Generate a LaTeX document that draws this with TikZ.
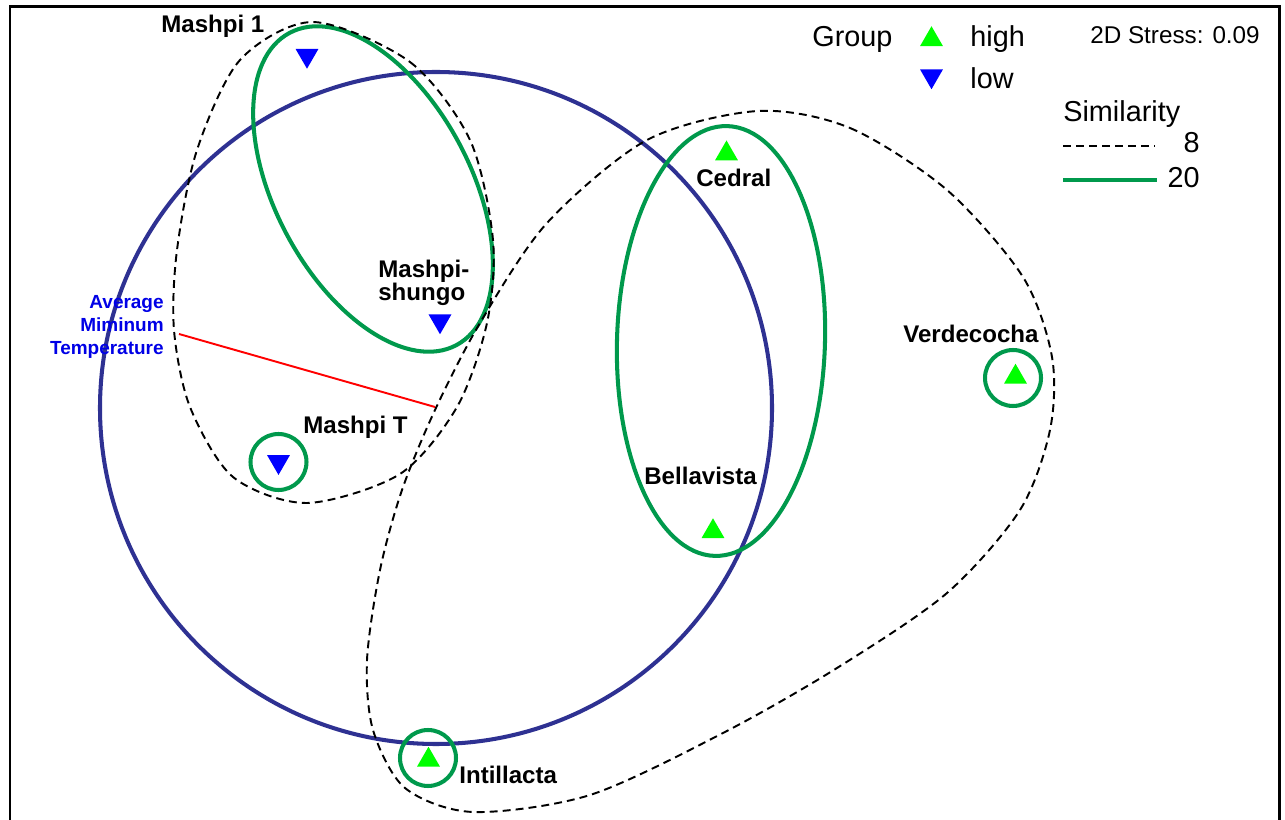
\documentclass[tikz,border=0pt]{standalone}
\usepackage{fontspec}
\setmainfont{Liberation Sans}
\usetikzlibrary{shapes.geometric}
\definecolor{tempblue}{RGB}{46,49,146}
\definecolor{grpgreen}{RGB}{0,153,76}
\definecolor{hicol}{RGB}{0,255,0}
\definecolor{locol}{RGB}{0,0,255}
\definecolor{avgblue}{RGB}{0,0,230}
\tikzset{
  hi/.style={regular polygon, regular polygon sides=3, fill=hicol, inner sep=0pt, minimum size=0.53cm},
  lo/.style={hi, fill=locol, regular polygon rotate=180},
  ring/.style={circle, draw=grpgreen, line width=2.3pt, inner sep=0pt, minimum size=1.12cm},
  site/.style={font=\fontsize{13.7}{16}\selectfont\bfseries, inner sep=0pt, anchor=base west},
  leg/.style={font=\fontsize{16.4}{19}\selectfont, inner sep=0pt, anchor=base west},
  simline/.style={dash pattern=on 4.5pt off 2.9pt, line width=1.1pt},
  grpline/.style={draw=grpgreen, line width=2.3pt},
}

\begin{document}
\begin{tikzpicture}[x=0.02cm, y=-0.02cm]
      \useasboundingbox (0,0) rectangle (1285,820);
      \draw[line width=1.7pt] (10,820) -- (10,7) -- (1279,7) -- (1279,820);
      % temperature bubble
      \draw[tempblue, line width=2.3pt] (436,408) circle [radius=336];
      % similarity 20
      \draw[grpline, rotate around={-61.85:(373,189)}] (373,189) ellipse [x radius=177, y radius=97.5];
      \draw[grpline, rotate around={-1.7:(721,341)}] (721,341) ellipse [x radius=104, y radius=215];
      % similarity 8
      \draw[simline] plot[smooth cycle] coordinates {(313,22) (410,62) (470,140) (493,240)
        (487,323) (457,407) (400,474) (307,503) (233,477) (190,407) (174,330) (177,250)
        (197,150) (240,60)};
      \draw[simline] plot[smooth cycle] coordinates {(758,111) (850,128) (947,190) (1023,277)
        (1052,357) (1050,430) (1020,510) (947,593) (837,668) (723,733) (590,795) (473,812)
        (405,788) (373,730) (367,660) (380,570) (402,490) (435,410) (480,323) (547,223)
        (647,140)};
      % vector
      \coordinate (vecA) at (179,334);
      \coordinate (vecB) at (435,407);
      \draw[red, line width=1.1pt] (vecA) -- (vecB);
      \node[font=\fontsize{10.8}{13.1}\selectfont\bfseries, text=avgblue, align=right, inner sep=0pt,
        anchor=north east] (avgtemp) at (164,295) {Average\\Miminum\\Temperature};
      % sites
      \node[ring] (mTring) at (278.5,462) {};
      \node[ring] (verring) at (1013,378) {};
      \node[ring] (intring) at (428,758) {};
      \node[lo] (m1) at (307,55.5) {};
      \node[lo] (msh) at (440,321) {};
      \node[lo] (mT) at (278.5,461.7) {};
      \node[hi] (ced) at (726.5,153.7) {};
      \node[hi] (bel) at (713,531.5) {};
      \node[hi] (ver) at (1015.5,377) {};
      \node[hi] (int) at (428.5,760) {};
      \node[site] (m1lab) at (161,33) {Mashpi 1};
      \node[site, font=\fontsize{13.7}{12.8}\selectfont\bfseries, align=left,
        anchor=north west] (mshlab) at (378,260) {Mashpi-\\shungo};
      \node[site] (mTlab) at (303,434) {Mashpi T};
      \node[site] (cedlab) at (696,187) {Cedral};
      \node[site] (bellab) at (644,485) {Bellavista};
      \node[site] (verlab) at (903,343) {Verdecocha};
      \node[site] (intlab) at (459,783) {Intillacta};
      % legend
      \node[leg] (grp) at (812,46.5) {Group};
      \node[hi] (leghi) at (931.5,39.5) {};
      \node[leg] (hilab) at (970,46.5) {high};
      \node[lo] (leglo) at (931.5,76) {};
      \node[leg] (lolab) at (970,88.3) {low};
      \node[font=\fontsize{13.8}{16}\selectfont, inner sep=0pt, anchor=base west] (stress) at (1090,43.3) {2D Stress: 0.09};
      \node[leg] (simlab) at (1063,121.7) {Similarity};
      \coordinate (d8a) at (1063,146);
      \coordinate (d8b) at (1155,146);
      \draw[simline] (d8a) -- (d8b);
      \node[leg, anchor=base east] (s8) at (1200,153) {8};
      \coordinate (d20a) at (1063,180);
      \coordinate (d20b) at (1157,180);
      \draw[grpline] (d20a) -- (d20b);
      \node[leg, anchor=base east] (s20) at (1200,188) {20};
\end{tikzpicture}
\end{document}
